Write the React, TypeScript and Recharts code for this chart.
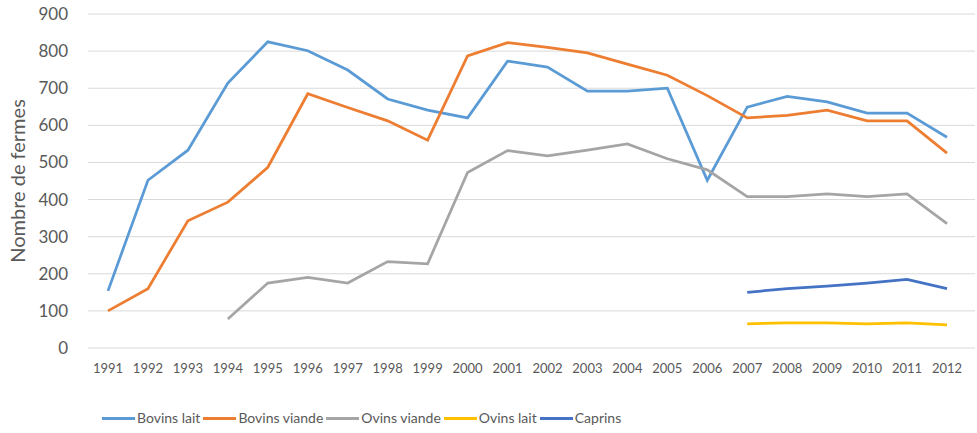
import React from 'react';
import { LineChart, Line, XAxis, YAxis, CartesianGrid, Legend } from 'recharts';

const years = ['1991', '1992', '1993', '1994', '1995', '1996', '1997', '1998', '1999', '2000', '2001',
  '2002', '2003', '2004', '2005', '2006', '2007', '2008', '2009', '2010', '2011', '2012'];

const bovinsLait = [154, 452, 533, 714, 825, 801, 749, 671, 641, 620, 773,
  757, 692, 692, 700, 452, 649, 678, 663, 633, 633, 568];
const bovinsViande = [100, 160, 343, 393, 487, 685, 648, 612, 560, 787, 823,
  810, 795, 765, 735, 680, 620, 627, 641, 612, 612, 525];
const ovinsViande = [null, null, null, 78, 175, 190, 175, 233, 227, 473, 532,
  518, 533, 550, 510, 480, 408, 408, 415, 408, 415, 335];
const ovinsLait = [null, null, null, null, null, null, null, null, null, null, null,
  null, null, null, null, null, 65, 68, 68, 65, 68, 62];
const caprins = [null, null, null, null, null, null, null, null, null, null, null,
  null, null, null, null, null, 150, 160, 167, 175, 185, 160];

const yTicks = [0, 100, 200, 300, 400, 500, 600, 700, 800, 900];

const series = [
  { key: 'Bovins lait', values: bovinsLait, color: '#5B9BD5' },
  { key: 'Bovins viande', values: bovinsViande, color: '#ED7D31' },
  { key: 'Ovins viande', values: ovinsViande, color: '#A5A5A5' },
  { key: 'Ovins lait', values: ovinsLait, color: '#FFC000' },
  { key: 'Caprins', values: caprins, color: '#4472C4' },
];

const data = years.map((year, i) => {
  const row: Record<string, any> = { year };
  series.forEach((s) => { row[s.key] = s.values[i]; });
  return row;
});

const font = 'Lato, "Open Sans", sans-serif';

const renderLegend = () => (
  <div style={{
    display: 'flex', justifyContent: 'flex-start', paddingLeft: 102, paddingTop: 26,
    fontFamily: font, fontSize: 14, color: '#595959', lineHeight: '18px',
  }}>
    {series.map((s) => (
      <div key={s.key} style={{ display: 'flex', alignItems: 'center', marginRight: 3 }}>
        <span style={{ display: 'inline-block', width: 33, height: 3, background: s.color, marginRight: 2 }} />
        <span>{s.key}</span>
      </div>
    ))}
  </div>
);

export default function App() {
  return (
    <div style={{ width: 977, height: 433, background: '#fff' }}>
      <style>{'body{margin:0}'}</style>
      <LineChart width={977} height={433} data={data} margin={{ top: 14, right: 2, left: 0, bottom: 0 }}>
        <CartesianGrid vertical={false} stroke="#D9D9D9" />
        <XAxis
          dataKey="year"
          axisLine={false}
          tickLine={false}
          tick={{ fill: '#595959', fontSize: 13, fontFamily: font }}
          height={35}
          tickMargin={10}
          interval={0}
          padding={{ left: 20, right: 28 }}
        />
        <YAxis
          domain={[0, 900]}
          ticks={yTicks}
          axisLine={false}
          tickLine={false}
          width={88}
          tick={{ fill: '#595959', fontSize: 17, fontFamily: font }}
          tickMargin={14}
          label={{
            value: 'Nombre de fermes', angle: -90, position: 'insideLeft', offset: 18,
            style: { textAnchor: 'middle', fill: '#595959', fontSize: 20, fontFamily: font },
          }}
        />
        <Legend verticalAlign="bottom" height={50} content={renderLegend} />
        {series.map((s) => (
          <Line
            key={s.key}
            type="linear"
            dataKey={s.key}
            stroke={s.color}
            strokeWidth={2.75}
            dot={false}
            activeDot={false}
            isAnimationActive={false}
          />
        ))}
      </LineChart>
    </div>
  );
}
